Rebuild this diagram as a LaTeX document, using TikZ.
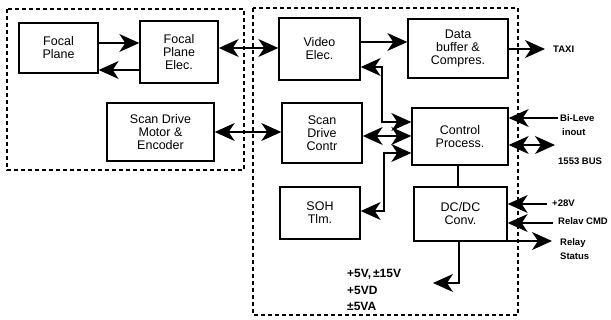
\documentclass[tikz,border=0pt]{standalone}
\usepackage{fontspec}
\setmainfont{Liberation Sans}
\usetikzlibrary{arrows.meta}
\begin{document}
\begin{tikzpicture}[x=1pt,y=-1pt,
  blk/.style={draw, line width=1.4pt, align=center, inner sep=0pt, font=\fontsize{12.5}{13}\selectfont},
  tip/.tip={Stealth[length=20pt,width=18pt,inset=6pt]},
  arr/.style={line width=1.2pt, -tip},
  darr/.style={line width=1.2pt, tip-tip},
  ln/.style={line width=1.2pt},
  lbl/.style={anchor=west, inner sep=0pt, font=\bfseries\fontsize{9.5}{10}\selectfont},
  pwr/.style={anchor=west, inner sep=0pt, font=\bfseries\fontsize{12}{13}\selectfont},
  grp/.style={draw, line width=1.5pt, dash pattern=on 4pt off 3pt}]

\useasboundingbox (0,0) rectangle (611,320);

% dashed groups
\draw[grp] (7,9) rectangle (244,170);
\draw[grp] (253,8) rectangle (518,315);

% blocks
\node[blk, minimum width=79pt, minimum height=50pt] (fp) at (58.5,48) {Focal\\Plane};
\node[blk, minimum width=78pt, minimum height=62pt] (fpe) at (179,52) {Focal\\Plane\\Elec.};
\node[blk, minimum width=107pt, minimum height=58pt] (sdm) at (160.5,132) {Scan Drive\\Motor \&\\Encoder};
\node[blk, minimum width=81pt, minimum height=62pt] (video) at (319.5,49) {Video\\Elec.};
\node[blk, minimum width=100pt, minimum height=59pt] (data) at (458,48.5) {Data\\buffer \&\\Compres.};
\node[blk, minimum width=80pt, minimum height=60pt] (sdc) at (322,133) {Scan\\Drive\\Contr};
\node[blk, minimum width=96pt, minimum height=57pt] (ctrl) at (460,136.5) {Control\\Process.};
\node[blk, minimum width=80pt, minimum height=52pt] (soh) at (320,213) {SOH\\Tlm.};
\node[blk, minimum width=93pt, minimum height=54pt] (dcdc) at (460.5,214) {DC/DC\\Conv.};

% labels
\node[lbl] (taxi) at (553,49) {TAXI};
\node[lbl] (bil) at (560,118) {Bi-Leve};
\node[lbl] (inout) at (562,132) {inout};
\node[lbl] (bus) at (558,161) {1553 BUS};
\node[lbl] (v28) at (552,203) {+28V};
\node[lbl] (rcmd) at (558,221) {Relav CMD};
\node[lbl] (rel) at (560,243) {Relay};
\node[lbl] (stat) at (560,256) {Status};
\node[pwr] (p1) at (347,274) {+5V,\,±15V};
\node[pwr] (p2) at (347,290) {+5VD};
\node[pwr] (p3) at (347,306) {±5VA};

% free ends
\coordinate (taxiend) at (545,49);
\coordinate (bilend) at (558,118);
\coordinate (busend) at (555,145);
\coordinate (v28end) at (547,204);
\coordinate (rcmdend) at (553,223);
\coordinate (relend) at (552,241);
\coordinate (pwrend) at (433,283);

% connectors
\draw[arr] (fp.east |- 0,43) -- (fpe.west |- 0,43);
\draw[arr] (fpe.west |- 0,70) -- (fp.east |- 0,70);
\draw[darr] (fpe.east |- 0,48) -- (video.west |- 0,48);
\draw[darr] (sdm.east |- 0,132) -- (sdc.west |- 0,132);
\draw[arr] (video.east |- 0,42) -- (data.west |- 0,42);
\draw[arr] (data.east |- 0,49) -- (taxiend);
\draw[darr] (ctrl.west |- 0,122) -- (382,122) -- (382,67) -- (video.east |- 0,67);
\draw[darr] (ctrl.west |- 0,136) -- (sdc.east |- 0,136);
\draw[darr] (ctrl.west |- 0,153) -- (384,153) -- (384,211) -- (soh.east |- 0,211);
\draw[ln] (ctrl.south -| 458,0) -- (dcdc.north -| 458,0);
\draw[arr] (bilend) -- (ctrl.east |- bilend);
\draw[darr] (busend) -- (ctrl.east |- busend);
\draw[arr] (v28end) -- (dcdc.east |- v28end);
\draw[arr] (rcmdend) -- (dcdc.east |- rcmdend);
\draw[arr] (dcdc.east |- relend) -- (relend);
\draw[arr] (dcdc.south -| 459,0) -- (459,283) -- (pwrend);
\end{tikzpicture}
\end{document}
